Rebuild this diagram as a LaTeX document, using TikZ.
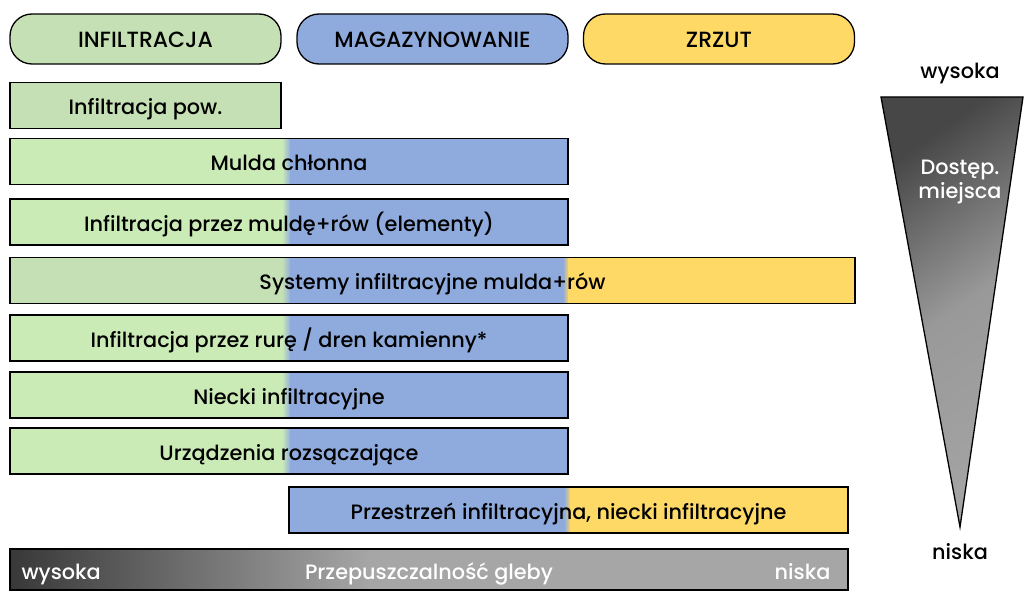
\documentclass[tikz,border=0pt]{standalone}
\usepackage{fontspec}
\setmainfont{Poppins}[UprightFont={Poppins Medium}]
\definecolor{infgreen}{HTML}{C5E0B4}
\definecolor{bargreen}{HTML}{CBEBB6}
\definecolor{magblue}{HTML}{8FAADC}
\definecolor{zryellow}{HTML}{FFD966}

\begin{document}
\begin{tikzpicture}[
	x=1pt,
	y=-1pt,
	font=\fontsize{20.8}{24}\selectfont,
	pill/.style={draw,line width=1.3pt,rounded corners=22pt,minimum width=271pt,minimum height=50pt,inner sep=0pt,
		text height=18pt,text depth=1.4pt,font=\fontsize{22}{25}\selectfont},
	bar/.style={draw,line width=1.3pt,minimum height=46pt,inner sep=0pt,text height=20pt,text depth=2pt},
	wlbl/.style={text=white,inner sep=0pt},
	lbl/.style={inner sep=0pt},
	]
\useasboundingbox (0,0) rectangle (1024,591);

% naglowki
\node [pill,fill=infgreen] (infil) at (145.5,39) {INFILTRACJA};
\node [pill,fill=magblue] (magaz) at (432.5,39) {MAGAZYNOWANIE};
\node [pill,fill=zryellow] (zrzut) at (719,39) {ZRZUT};

% paski
\node [bar,fill=infgreen,minimum width=271pt] (pow) at (145.5,105.5) {Infiltracja pow.};

\foreach \yc/\nm/\txt in {161.5/mulda/{Mulda chłonna},
	222/rowy/{Infiltracja przez muldę+rów (elementy)},
	338/rura/{Infiltracja przez rurę / dren kamienny*},
	395/niecki/{Niecki infiltracyjne},
	451/rozsacz/{Urządzenia rozsączające}} {
	\fill [bargreen] (10,\yc-23) rectangle (283,\yc+23);
	\shade [left color=bargreen,right color=magblue] (282,\yc-23) rectangle (291,\yc+23);
	\fill [magblue] (290,\yc-23) rectangle (568,\yc+23);
	\node [bar,minimum width=558pt] (\nm) at (289,\yc) {\txt};
}

\fill [infgreen] (10,257.5) rectangle (283,303.5);
\shade [left color=infgreen,right color=magblue] (282,257.5) rectangle (291,303.5);
\fill [magblue] (290,257.5) rectangle (564,303.5);
\shade [left color=magblue,right color=zryellow] (563,257.5) rectangle (569,303.5);
\fill [zryellow] (568,257.5) rectangle (855,303.5);
\node [bar,minimum width=845pt] (systemy) at (432.5,280.5) {Systemy infiltracyjne mulda+rów};

\fill [magblue] (289,487) rectangle (565,533);
\shade [left color=magblue,right color=zryellow] (564,487) rectangle (571,533);
\fill [zryellow] (570,487) rectangle (848,533);
\node [bar,minimum width=559pt] (przestrzen) at (568.5,510) {Przestrzeń infiltracyjna, niecki infiltracyjne};

% przepuszczalnosc
\shade [left color=black!78,right color=black!35] (10,549) rectangle (370,590);
\fill [black!35] (369,549) rectangle (848,590);
\node [bar,minimum width=838pt,minimum height=41pt] (gleba) at (429,569.5) {};
\node [wlbl,anchor=base] at ([yshift=-10pt]gleba.center) {Przepuszczalność gleby};
\node [wlbl,anchor=base west] (gwys) at ([xshift=12pt,yshift=-10pt]gleba.west) {wysoka};
\node [wlbl,anchor=base east] (gnis) at ([xshift=-18pt,yshift=-10pt]gleba.east) {niska};

% trojkat
\coordinate (tl) at (881,97);
\coordinate (tr) at (1023,97);
\coordinate (tb) at (960,527);
\shade [draw,line width=1.3pt,top color=black!72,bottom color=black!36,middle color=black!40,shading angle=35] (tl) -- (tr) -- (tb) -- cycle;
\node [wlbl,align=center] (miejsce) at (960,182) {Dostęp.\\miejsca};
\node [lbl] (twys) at (960,73) {wysoka};
\node [lbl] (tnis) at (960,552) {niska};
\end{tikzpicture}
\end{document}
